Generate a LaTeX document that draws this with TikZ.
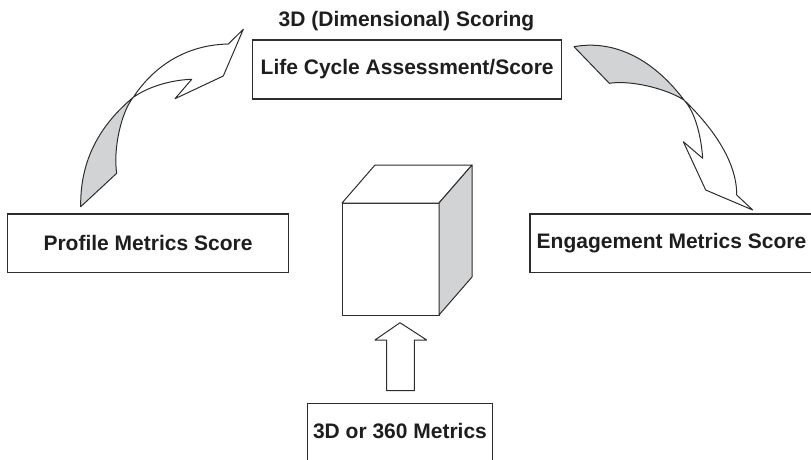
\documentclass[tikz,border=0pt]{standalone}
\usepackage{fontspec}
\setmainfont{Liberation Sans}
\definecolor{linegray}{RGB}{45,45,45}
\definecolor{textgray}{RGB}{30,30,30}
\definecolor{shade}{RGB}{210,211,213}
\begin{document}
\begin{tikzpicture}[x=1pt,y=-1pt,
  label font/.style={font=\bfseries\fontsize{21}{25}\selectfont,text=textgray},
  box/.style={draw=linegray,line width=1.1pt,fill=white,inner sep=0pt,label font},
  outline/.style={draw=linegray,line width=1pt,line join=round},
]
\useasboundingbox (0,0) rectangle (811,459);

% score boxes
\node[label font] (title) at (406.5,21.5) {3D (Dimensional) Scoring};
\node[box,minimum width=309pt,minimum height=59pt] (lca) at (407.2,69.5) {Life Cycle Assessment/Score};
\node[box,minimum width=281.4pt,minimum height=58.7pt] (profile) at (148,243.35) {Profile Metrics Score};
\node[box,minimum width=283pt,minimum height=58.7pt] (engage) at (671.5,243.35) {Engagement Metrics Score};
\node[box,minimum width=185.4pt,minimum height=69.4pt,text depth=15pt] (metrics) at (400,438) {3D or 360 Metrics};

% left twisted arrow: profile -> life cycle
\filldraw[outline,fill=shade] (80.7,206.7) .. controls (80,160) and (100,125) .. (133.3,97.3)
  .. controls (121,112) and (113,150) .. (116.7,173.3) -- cycle;
\filldraw[outline,fill=white] (133.3,97.3) .. controls (150,72) and (180,45) .. (228.3,44)
  -- (243.3,29.3) -- (223.3,76) -- (175,98.7) -- (191.7,79.3)
  .. controls (170,80) and (148,87) .. (133.3,97.3) -- cycle;

% right twisted arrow: life cycle -> engagement
\filldraw[outline,fill=shade] (574,46.7) .. controls (610,40) and (650,55) .. (684,100)
  .. controls (665,88) and (630,80) .. (609.3,83.3) -- cycle;
\filldraw[outline,fill=white] (684,100) .. controls (710,125) and (737,160) .. (736.7,195)
  -- (752.7,210) -- (705.7,190) -- (683.3,141.7) -- (702.7,158.3)
  .. controls (701,135) and (695,112) .. (684,100) -- cycle;

% cube
\filldraw[outline,fill=white] (342,203) rectangle (439,315);
\filldraw[outline,fill=white] (342,203) -- (375,165) -- (472,165) -- (439,203) -- cycle;
\filldraw[outline,fill=shade] (439,203) -- (472,165) -- (472,277) -- (439,315) -- cycle;

% block arrow up into the cube
\filldraw[outline,fill=white] (400,322.7) -- (426.7,340) -- (414.3,340) -- (414.3,390.7)
  -- (386.7,390.7) -- (386.7,340) -- (375,340) -- cycle;
\end{tikzpicture}
\end{document}
